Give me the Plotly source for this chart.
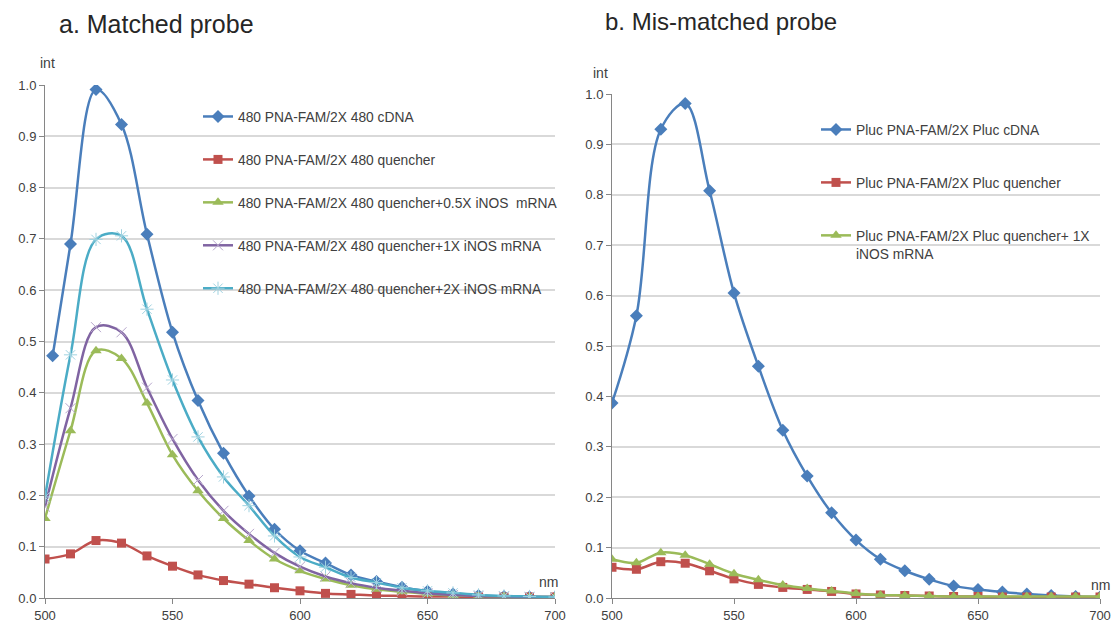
import plotly.graph_objects as go
from plotly.subplots import make_subplots

# Wavelengths (nm)
nm = [500, 510, 520, 530, 540, 550, 560, 570, 580, 590, 600,
      610, 620, 630, 640, 650, 660, 670, 680, 690, 700]
nm_a_cdna = [503] + nm[1:]

# a. Matched probe (normalised intensity)
a_cdna = [0.472, 0.690, 0.991, 0.923, 0.709, 0.518, 0.385, 0.282, 0.199, 0.134, 0.092,
          0.068, 0.045, 0.032, 0.021, 0.013, 0.008, 0.005, 0.003, 0.002, 0.001]
a_quencher = [0.076, 0.086, 0.112, 0.107, 0.082, 0.062, 0.045, 0.034, 0.027, 0.020, 0.014,
              0.009, 0.007, 0.005, 0.004, 0.003, 0.003, 0.002, 0.002, 0.002, 0.002]
a_q_05x = [0.155, 0.326, 0.482, 0.467, 0.380, 0.279, 0.209, 0.155, 0.112, 0.076, 0.053,
           0.037, 0.025, 0.017, 0.012, 0.008, 0.005, 0.004, 0.003, 0.002, 0.002]
a_q_1x = [0.178, 0.370, 0.528, 0.518, 0.410, 0.310, 0.230, 0.170, 0.125, 0.088, 0.061,
          0.042, 0.029, 0.020, 0.014, 0.009, 0.006, 0.004, 0.003, 0.002, 0.002]
a_q_2x = [0.197, 0.474, 0.699, 0.706, 0.563, 0.425, 0.314, 0.236, 0.180, 0.121, 0.080,
          0.060, 0.040, 0.030, 0.020, 0.014, 0.010, 0.006, 0.004, 0.003, 0.002]

# b. Mis-matched probe
b_cdna = [0.387, 0.560, 0.930, 0.981, 0.808, 0.605, 0.460, 0.333, 0.242, 0.169, 0.115,
          0.077, 0.054, 0.037, 0.024, 0.017, 0.012, 0.008, 0.005, 0.003, 0.002]
b_quencher = [0.061, 0.057, 0.072, 0.069, 0.054, 0.038, 0.027, 0.021, 0.017, 0.013, 0.008,
              0.006, 0.005, 0.004, 0.003, 0.003, 0.002, 0.002, 0.002, 0.002, 0.002]
b_q_1x = [0.077, 0.070, 0.090, 0.085, 0.067, 0.048, 0.036, 0.026, 0.019, 0.014, 0.009,
          0.006, 0.005, 0.004, 0.003, 0.003, 0.003, 0.003, 0.003, 0.003, 0.003]

BLUE = "#4A7EBB"
RED = "#C0504D"
GREEN = "#9BBB59"
PURPLE = "#8064A2"
CYAN = "#4BACC6"

FONT = "Liberation Sans"
TXT = "#404040"

fig = make_subplots(rows=1, cols=2)


def add(x, y, name, color, symbol, col, legend, group, msize=9, mline=None, mcolor=None):
    marker = dict(symbol=symbol, size=msize, color=mcolor or color)
    if mline is not None:
        marker["line"] = dict(color=mline, width=1)
    fig.add_trace(go.Scatter(
        x=x, y=y, name=name, mode="lines+markers",
        line=dict(color=color, width=2.5, shape="spline", smoothing=1.0),
        marker=marker, legend=legend, legendgroup=group,
    ), row=1, col=col)


add(nm_a_cdna, a_cdna, "480 PNA-FAM/2X 480 cDNA", BLUE, "diamond", 1, "legend", "a1", msize=10)
add(nm, a_quencher, "480 PNA-FAM/2X 480 quencher", RED, "square", 1, "legend", "a2")
add(nm, a_q_05x, "480 PNA-FAM/2X 480 quencher+0.5X iNOS  mRNA", GREEN, "triangle-up", 1, "legend", "a3", msize=10)
add(nm, a_q_1x, "480 PNA-FAM/2X 480 quencher+1X iNOS mRNA", PURPLE, "x-thin-open", 1, "legend", "a4",
    msize=10, mline="#B7A7CC", mcolor="#B7A7CC")
add(nm, a_q_2x, "480 PNA-FAM/2X 480 quencher+2X iNOS mRNA", CYAN, "asterisk-open", 1, "legend", "a5",
    msize=11, mline="#9FD2E0", mcolor="#9FD2E0")

add(nm, b_cdna, "Pluc PNA-FAM/2X Pluc cDNA", BLUE, "diamond", 2, "legend2", "b1", msize=10)
add(nm, b_quencher, "Pluc PNA-FAM/2X Pluc quencher", RED, "square", 2, "legend2", "b2")
add(nm, b_q_1x, "Pluc PNA-FAM/2X Pluc quencher+ 1X<br>iNOS mRNA", GREEN, "triangle-up", 2, "legend2", "b3", msize=10)

W, H = 1117, 633


def px_x(p):
    return p / W


def px_y(p):
    return 1 - p / H


axis_common = dict(
    showline=True, linecolor="#868686", linewidth=1,
    ticks="outside", ticklen=5, tickcolor="#868686",
    tickfont=dict(family=FONT, size=13, color=TXT),
    zeroline=False, automargin=False,
)

fig.update_xaxes(range=[500, 700], dtick=50, tick0=500, showgrid=False, **axis_common)
fig.update_yaxes(range=[0, 1], dtick=0.1, tickformat=".1f", showgrid=True,
                 gridcolor="#D9D9D9", gridwidth=1.5, **axis_common)

fig.update_layout(
    width=W, height=H,
    margin=dict(l=0, r=0, t=0, b=0),
    paper_bgcolor="white", plot_bgcolor="white",
    xaxis=dict(domain=[px_x(45), px_x(555)]),
    yaxis=dict(domain=[px_y(598), px_y(85)]),
    xaxis2=dict(domain=[px_x(612), px_x(1100)]),
    yaxis2=dict(domain=[px_y(598), px_y(94)]),
    legend=dict(x=px_x(198), y=px_y(101), xanchor="left", yanchor="top",
                bgcolor="rgba(0,0,0,0)", font=dict(family=FONT, size=13.8, color=TXT),
                tracegroupgap=22, itemwidth=30),
    legend2=dict(x=px_x(816), y=px_y(114), xanchor="left", yanchor="top",
                 bgcolor="rgba(0,0,0,0)", font=dict(family=FONT, size=13.8, color=TXT),
                 tracegroupgap=32, itemwidth=30, valign="top"),
    showlegend=True,
)

annotations = [
    dict(text="a. Matched probe", x=px_x(156), y=px_y(24), size=25),
    dict(text="b. Mis-matched probe", x=px_x(721), y=px_y(22), size=24),
    dict(text="int", x=px_x(47), y=px_y(63), size=14),
    dict(text="int", x=px_x(600), y=px_y(73), size=14),
    dict(text="nm", x=px_x(548), y=px_y(582), size=14),
    dict(text="nm", x=px_x(1100), y=px_y(585), size=14),
]
for a in annotations:
    fig.add_annotation(text=a["text"], x=a["x"], y=a["y"], xref="paper", yref="paper",
                       xanchor="center", yanchor="middle", showarrow=False,
                       font=dict(family=FONT, size=a["size"], color="#262626" if a["size"] > 20 else TXT))

fig.write_html("out.html")
